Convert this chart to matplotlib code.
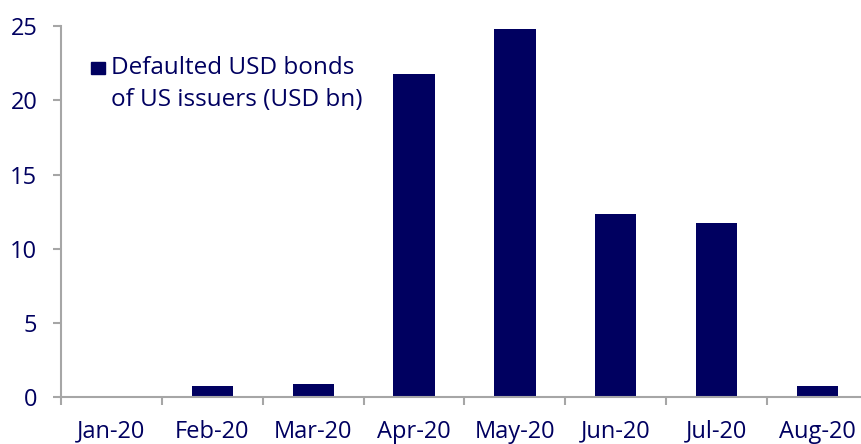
import matplotlib
matplotlib.use('Agg')
import matplotlib.pyplot as plt
import numpy as np

#---- data ----
months = ['Jan-20', 'Feb-20', 'Mar-20', 'Apr-20', 'May-20', 'Jun-20', 'Jul-20', 'Aug-20']
defaults = [0.0, 0.78, 0.87, 21.77, 24.8, 12.34, 11.72, 0.78]
legend_lines = ['Defaulted USD bonds', 'of US issuers (USD bn)']

navy = '#000060'
grey = '#a6a6a6'

plt.rcParams['font.family'] = ['Open Sans', 'DejaVu Sans']

fig = plt.figure(figsize=(8.61, 4.44), dpi=100)
# axes runs off the right edge like the original
ax = fig.add_axes([61 / 861, 46.7 / 444, 807 / 861, 371.3 / 444])

x = np.arange(len(months))
ax.bar(x, defaults, width=0.41, color=navy)

ax.set_xlim(-0.5, len(months) - 0.5)
ax.set_ylim(0, 25)
ax.set_yticks([0, 5, 10, 15, 20, 25])

ax.set_xticks(x)
ax.set_xticklabels(months)
ax.set_xticks(np.arange(len(months)) - 0.5, minor=True)
ax.tick_params(axis='x', which='major', length=0, pad=16, labelsize=17, labelcolor=navy)
ax.tick_params(axis='x', which='minor', length=6, width=1.5, color=grey, direction='out')
ax.tick_params(axis='y', length=6, width=1.5, color=grey, pad=11, labelsize=17, labelcolor=navy)

for s in ['top', 'right']:
    ax.spines[s].set_visible(False)
for s in ['left', 'bottom']:
    ax.spines[s].set_color(grey)
    ax.spines[s].set_linewidth(1.5)

# legend drawn by hand so the key sits on the first line
ax.add_patch(plt.Rectangle((0.0372, 0.8707), 0.0173, 0.0323, transform=ax.transAxes,
                           color=navy, clip_on=False))
ax.text(0.062, 0.8707, legend_lines[0], transform=ax.transAxes, fontsize=17.5,
        color=navy, va='baseline', ha='left')
ax.text(0.062, 0.7845, legend_lines[1], transform=ax.transAxes, fontsize=17.5,
        color=navy, va='baseline', ha='left')

fig.savefig('out.png', dpi=100)
